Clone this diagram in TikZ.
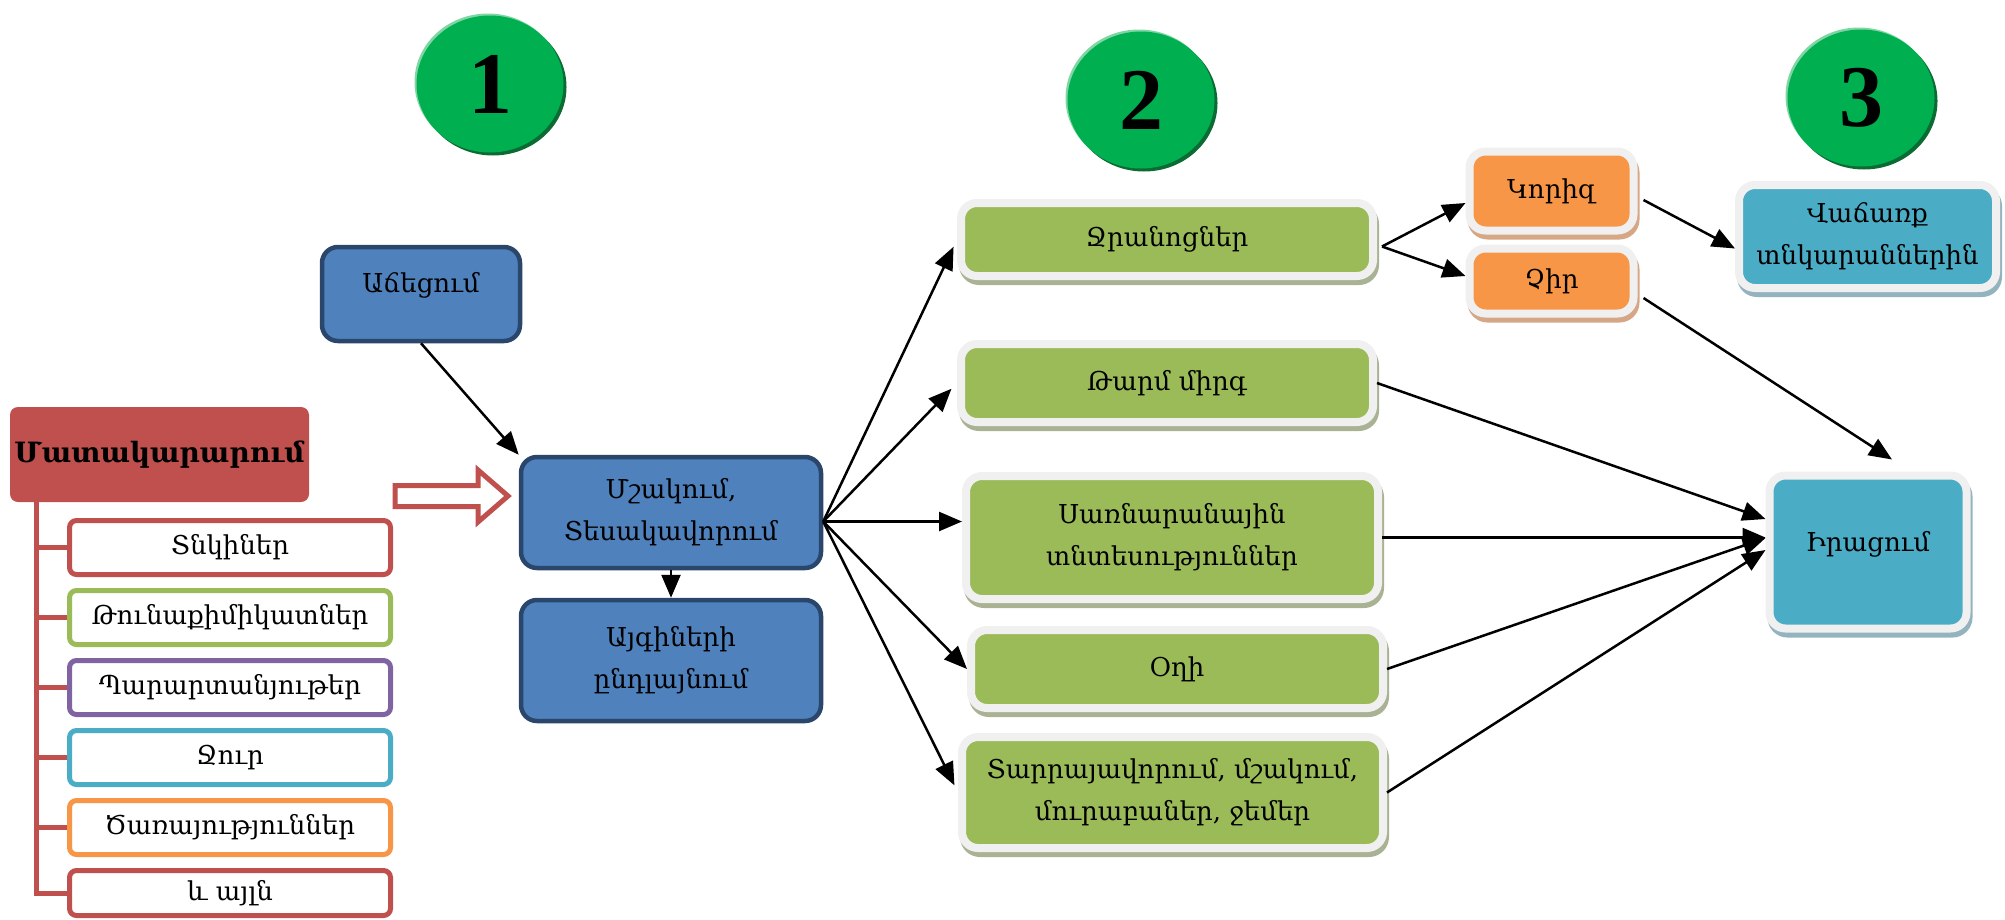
\documentclass[tikz,border=0pt]{standalone}
\usepackage{fontspec}
\setmainfont{DejaVu Serif}
\newfontfamily\digitfont{Liberation Serif}
\usetikzlibrary{shapes.geometric,arrows.meta}

\definecolor{rred}{HTML}{C0504D}
\definecolor{lgreen}{HTML}{9BBB59}
\definecolor{lpurple}{HTML}{8064A2}
\definecolor{lcyan}{HTML}{4BACC6}
\definecolor{lorange}{HTML}{F79646}
\definecolor{blueface}{HTML}{4F81BD}
\definecolor{bluedge}{HTML}{2B466B}
\definecolor{ballgreen}{HTML}{00B050}
\definecolor{balldark}{HTML}{0B6B33}
\definecolor{balllight}{HTML}{7FD6A4}
\definecolor{frame}{HTML}{F0F0F0}
\definecolor{gshade}{HTML}{A9B393}
\definecolor{oshade}{HTML}{D6A786}
\definecolor{cshade}{HTML}{93B3BF}

\begin{document}
\begin{tikzpicture}[x=1pt,y=-1pt,
	txt/.style={font=\fontsize{26}{42}\selectfont, align=center, text=black},
	ball/.style={ellipse, inner sep=0pt, minimum width=147pt, minimum height=137pt, fill=ballgreen,
		preaction={fill=balldark, transform canvas={xshift=3pt,yshift=-3pt}},
		preaction={fill=balllight, transform canvas={xshift=-2pt,yshift=2pt}},
		font=\digitfont\bfseries\fontsize{88}{88}\selectfont},
	item/.style={txt, draw=#1, line width=5pt, fill=white, rounded corners=7pt, minimum width=321pt, minimum height=54pt},
	bluebox/.style={txt, draw=bluedge, line width=4.5pt, fill=blueface, rounded corners=16pt},
	framed/.style 2 args={txt, draw=frame, line width=8pt, fill=#1, rounded corners=16pt,
		preaction={fill=#2, draw=#2, line width=8pt, transform canvas={xshift=2pt,yshift=-5pt}}},
	conn/.style={line width=2.5pt, -{Stealth[length=23pt,width=19pt,inset=0pt]}},
	tree/.style={rred, line width=5pt}]
	\useasboundingbox (0,0) rectangle (2005,919);

	% steps
	\node (s1) [ball] at (490,84) {1};
	\node (s2) [ball] at (1141,100) {2};
	\node (s3) [ball] at (1861,98) {3};

	% supply
	\node (mat) [txt, fill=rred, rounded corners=8pt, minimum width=299pt, minimum height=95pt, inner sep=2pt,
		font=\bfseries\fontsize{28}{34}\selectfont] at (159.5,454.5) {Մատակարարում};
	\node (l1) [item=rred] at (230,547.5) {Տնկիներ};
	\node (l2) [item=lgreen] at (230,617.5) {Թունաքիմիկատներ};
	\node (l3) [item=lpurple] at (230,687.5) {Պարարտանյութեր};
	\node (l4) [item=lcyan] at (230,757.5) {Ջուր};
	\node (l5) [item=lorange] at (230,827.5) {Ծառայություններ};
	\node (l6) [item=rred, minimum height=45pt] at (230,893) {և այլն};
	\coordinate (trunk) at ([xshift=27pt]mat.south west);
	\draw[tree] (trunk) |- (l6.west);
	\foreach \i in {1,...,5}
		\draw[tree] (l\i.west) -- (trunk |- l\i.west);
	\draw[rred, line width=5pt, fill=white] (395,485.5) -- (478,485.5) -- (478,470)
		-- (508,496) -- (478,522) -- (478,506.5) -- (395,506.5) -- cycle;

	% 1
	\node (ach) [bluebox, minimum width=198pt, minimum height=94pt, text depth=24pt] at (421,294) {Աճեցում};
	\node (msh) [bluebox, minimum width=300pt, minimum height=111pt] at (671,512.5) {Մշակում,\\Տեսակավորում};
	\node (ayg) [bluebox, minimum width=300pt, minimum height=121pt] at (671,660.5) {Այգիների\\ընդլայնում};

	% 2
	\node (jr) [framed={lgreen}{gshade}, minimum width=412pt, minimum height=73pt] at (1167,239.5) {Ջրանոցներ};
	\node (mirg) [framed={lgreen}{gshade}, minimum width=412pt, minimum height=78pt] at (1167,383) {Թարմ միրգ};
	\node (sar) [framed={lgreen}{gshade}, minimum width=412pt, minimum height=123pt] at (1172,537.5) {Սառնարանային\\տնտեսություններ};
	\node (oghi) [framed={lgreen}{gshade}, minimum width=412pt, minimum height=78pt] at (1177,669) {Օղի};
	\node (tar) [framed={lgreen}{gshade}, minimum width=421pt, minimum height=111pt] at (1172.5,792.5) {Տարրայավորում, մշակում,\\մուրաբաներ, ջեմեր};
	\node (kor) [framed={lorange}{oshade}, minimum width=164pt, minimum height=79pt] at (1551.5,191) {Կորիզ};
	\node (chir) [framed={lorange}{oshade}, minimum width=164pt, minimum height=65pt] at (1551.5,281) {Չիր};

	% 3
	\node (sale) [framed={lcyan}{cshade}, minimum width=257pt, minimum height=103pt] at (1867.5,236.5) {Վաճառք\\տնկարաններին};
	\node (ir) [framed={lcyan}{cshade}, minimum width=197pt, minimum height=153pt, text depth=22pt] at (1868,552) {Իրացում};

	\coordinate (fan) at ([yshift=-9pt]msh.east);
	\coordinate (split) at ([xshift=5pt,yshift=-7pt]jr.east);
	\path[conn]
		(ach.south) edge (msh.north west)
		(msh.south) edge (ayg.north)
		(fan) edge[shorten >=8pt] (jr.west)
		edge[shorten >=8pt] (mirg.west)
		edge (fan -| sar.west)
		edge (oghi.west)
		edge[shorten >=8pt] (tar.west)
		(split) edge ([yshift=-12pt]kor.west)
		edge ([yshift=5pt]chir.west)
		([xshift=6pt,yshift=-9pt]kor.east) edge ([yshift=-12pt]sale.west)
		([xshift=6pt,yshift=-17pt]chir.east) edge ([xshift=24pt,yshift=12pt]ir.north)
		(mirg.east) edge ([yshift=33pt]ir.west)
		(sar.east) edge (sar.east -| ir.west)
		(oghi.east) edge ([yshift=14pt]ir.west)
		(tar.east) edge ([yshift=2pt]ir.west);
\end{tikzpicture}
\end{document}
